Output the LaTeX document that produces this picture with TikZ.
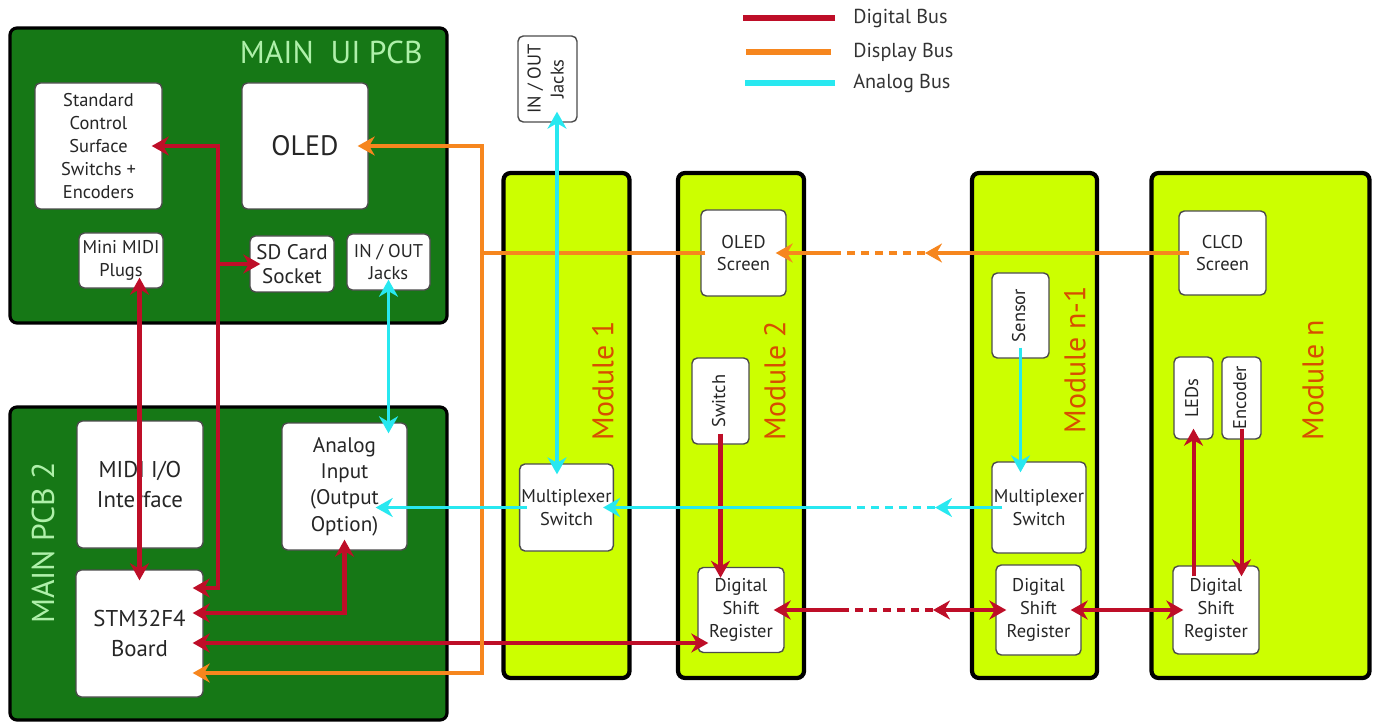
\documentclass[tikz,border=0pt]{standalone}
\usepackage{fontspec}
\setmainfont{PT Sans}
\usetikzlibrary{arrows.meta}

\definecolor{pcbgreen}{RGB}{22,120,22}
\definecolor{pcbtext}{RGB}{175,240,170}
\definecolor{modfill}{RGB}{204,255,0}
\definecolor{modtext}{RGB}{215,78,0}
\definecolor{busred}{RGB}{190,14,40}
\definecolor{busorange}{RGB}{246,134,30}
\definecolor{buscyan}{RGB}{40,232,240}

\newcommand{\vlabel}[1]{\rotatebox{90}{\begin{tabular}{@{}c@{}}#1\end{tabular}}}

\begin{document}
\begin{tikzpicture}[
    >={Stealth[length=3.4mm, width=3.8mm, inset=1.1mm]},
    pcb/.style={draw=black, line width=1.8pt, fill=pcbgreen, rounded corners=4pt},
    pcbname/.style={text=pcbtext, font=\fontsize{18}{20}\selectfont},
    module/.style={draw=black, line width=2.4pt, fill=modfill, rounded corners=4pt, minimum height=101mm},
    modname/.style={text=modtext, font=\fontsize{17}{20}\selectfont, rotate=90},
    box/.style={draw=black!70, line width=0.8pt, fill=white, rounded corners=3pt, align=center,
                inner sep=1pt, text=black!85, font=\fontsize{10.5}{13}\selectfont},
    bigbox/.style={box, font=\fontsize{13}{17}\selectfont},
    rbus/.style={busred, line width=2.3pt},
    obus/.style={busorange, line width=2.1pt},
    abus/.style={buscyan, line width=2.1pt},
    broken/.style={dash pattern=on 1.7mm off 1.1mm},
    deep/.style={shorten <=-2.2mm, shorten >=-2.2mm},
    legtxt/.style={text=black!80, font=\fontsize{11.5}{13}\selectfont, anchor=west, inner sep=0pt},
  ]
    \useasboundingbox (0,0) rectangle (27.52,-14.44);

    % boards
    \node[pcb, minimum width=87.4mm, minimum height=59mm]   (uipcb)  at (4.57,-3.51)  {};
    \node[pcb, minimum width=87.4mm, minimum height=62.6mm] (pcbtwo) at (4.57,-11.27) {};
    \node[pcbname, anchor=east, inner sep=0pt] (uiname) at (8.46,-1.04) {MAIN~~UI PCB};
    \node[pcbname, rotate=90] (twoname) at (0.86,-10.86) {MAIN PCB 2};

    \foreach \nm/\x/\w in {mod1/11.33/25.2, mod2/14.82/25.2, modn1/20.69/25.0, modn/25.21/43.6}
      \node[module, minimum width=\w mm] (\nm) at (\x,-8.51) {};

    \node[modname] (mod1name)  at (12.06,-7.62) {Module 1};
    \node[modname] (mod2name)  at (15.50,-7.62) {Module 2};
    \node[modname] (modn1name) at (21.50,-7.20) {Module n-1};
    \node[modname] (modnname)  at (26.26,-7.60) {Module n};

    % main ui pcb
    \node[box, minimum width=25.4mm, minimum height=25.2mm] (stdctl) at (1.97,-2.92)
      {Standard\\Control\\Surface\\Switchs +\\Encoders};
    \node[box, font=\fontsize{16}{20}\selectfont, minimum width=25.2mm, minimum height=25.2mm]
      (oled) at (6.10,-2.92) {OLED};
    \node[box, minimum width=16.8mm, minimum height=11mm]   (minimidi) at (2.42,-5.21) {Mini MIDI\\Plugs};
    \node[box, font=\fontsize{12}{14}\selectfont, minimum width=16.8mm, minimum height=11.2mm]
      (sdcard) at (5.84,-5.28) {SD Card\\Socket};
    \node[box, minimum width=16.6mm, minimum height=11.2mm] (jacksui)  at (7.77,-5.24) {IN / OUT\\Jacks};

    % main pcb 2
    \node[bigbox, minimum width=25.2mm, minimum height=25.4mm] (midiio) at (2.80,-9.69) {MIDI I/O\\Interface};
    \node[box, font=\fontsize{12}{15}\selectfont, minimum width=25mm, minimum height=25.4mm]
      (analog) at (6.89,-9.73) {Analog\\Input\\(Output\\Option)};
    \node[bigbox, minimum width=25.4mm, minimum height=25.4mm] (stm) at (2.79,-12.67) {STM32F4\\Board};

    % modules
    \node[box, minimum width=11.8mm, minimum height=17.2mm] (jacksm1) at (10.95,-1.58) {\vlabel{IN / OUT\\Jacks}};
    \node[box, minimum width=18.6mm, minimum height=17.4mm] (mux1)    at (11.33,-10.15) {Multiplexer\\Switch};
    \node[box, minimum width=17mm, minimum height=17.2mm]   (oledscr) at (14.87,-5.06) {OLED\\Screen};
    \node[box, minimum width=11.4mm, minimum height=17.2mm] (switch)  at (14.41,-8.02) {\vlabel{Switch}};
    \node[box, minimum width=17.2mm, minimum height=17mm]   (dsr2)    at (14.82,-12.20) {Digital\\Shift\\Register};
    \node[box, minimum width=11.4mm, minimum height=17mm]   (sensor)  at (20.41,-6.31) {\vlabel{Sensor}};
    \node[box, minimum width=18.8mm, minimum height=18.2mm] (muxn1)   at (20.78,-10.15) {Multiplexer\\Switch};
    \node[box, minimum width=17mm, minimum height=18mm]     (dsrn1)   at (20.77,-12.20) {Digital\\Shift\\Register};
    \node[box, minimum width=17.4mm, minimum height=16.8mm] (clcd)    at (24.45,-5.06) {CLCD\\Screen};
    \node[box, minimum width=7.8mm, minimum height=16.4mm]  (leds)    at (23.87,-7.96) {\vlabel{LEDs}};
    \node[box, minimum width=7.8mm, minimum height=16.4mm]  (encoder) at (24.83,-7.96) {\vlabel{Encoder}};
    \node[box, minimum width=17.2mm, minimum height=17.6mm] (dsrn)    at (24.32,-12.20) {Digital\\Shift\\Register};

    % bends and breaks
    \coordinate (rcol)    at (4.36,-5.28);
    \coordinate (ocorner) at (9.64,-13.46);
    \coordinate (ogapR)   at (18.50,-5.06);
    \coordinate (ogapL)   at (16.70,-5.06);
    \coordinate (agapR)   at (18.70,-10.15);
    \coordinate (agapL)   at (16.86,-10.15);
    \coordinate (dgapR)   at (18.66,-12.20);
    \coordinate (dgapL)   at (16.86,-12.20);

    % digital bus
    \draw[rbus, <->, deep] (stm.north |- minimidi.south) -- (stm.north);
    \draw[rbus, <->, deep] ([yshift=9.1mm]stm.east) -| (rcol) |- (stdctl.east);
    \draw[rbus, ->, shorten >=-2.2mm] (rcol) -- (sdcard.west);
    \draw[rbus, <->, deep] ([yshift=4.1mm]stm.east) -| (analog.south);
    \draw[rbus, <->, deep] ([yshift=-1.9mm]stm.east) -- ([yshift=-1.9mm]stm.east -| dsr2.west);
    \draw[rbus, ->, deep] (switch.south) -- (switch.south |- dsr2.north);
    \draw[rbus, <->, shorten <=-2.2mm] (dsrn1.west) -- (dgapR);
    \draw[rbus, broken] (dgapR) -- (dgapL);
    \draw[rbus, ->, shorten >=-2.2mm] (dgapL) -- (dsr2.east);
    \draw[rbus, <->, deep] (dsrn1.east) -- (dsrn.west);
    \draw[rbus, ->, deep] (leds.south |- dsrn.north) -- (leds.south);
    \draw[rbus, ->, deep] (encoder.south) -- (encoder.south |- dsrn.north);

    % display bus
    \draw[obus, <->, deep] (oled.east) -| (ocorner) -- ([yshift=-7.9mm]stm.east);
    \draw[obus, shorten <=-1mm] (oledscr.west) -- (oledscr.west -| ocorner);
    \draw[obus, ->, shorten <=-2.2mm] (clcd.west) -- (ogapR);
    \draw[obus, broken] (ogapR) -- (ogapL);
    \draw[obus, ->, shorten >=-2.2mm] (ogapL) -- (oledscr.east);

    % analog bus
    \draw[abus, <->, deep] (jacksui.south) -- (jacksui.south |- analog.north);
    \draw[abus, <->, deep] ([xshift=1.9mm]jacksm1.south) -- ([xshift=1.9mm]jacksm1.south |- mux1.north);
    \draw[abus, ->, deep] (sensor.south) -- (sensor.south |- muxn1.north);
    \draw[abus, ->, shorten <=-2.2mm] (muxn1.west) -- (agapR);
    \draw[abus, broken] (agapR) -- (agapL);
    \draw[abus, ->, shorten >=-2.2mm] (agapL) -- (mux1.east);
    \draw[abus, ->, shorten <=-1.6mm, shorten >=-6.4mm] (mux1.west) -- (analog.east |- mux1.west);

    % legend
    \node[legtxt] (lgdig)  at (17.06,-0.36) {Digital Bus};
    \node[legtxt] (lgdisp) at (17.06,-1.04) {Display Bus};
    \node[legtxt] (lgana)  at (17.06,-1.66) {Analog Bus};
    \draw[rbus, line width=3pt] ([xshift=-3.6mm]lgdig.west)  -- ++(-18.4mm,0);
    \draw[obus, line width=3pt] ([xshift=-4.4mm]lgdisp.west) -- ++(-17mm,0);
    \draw[abus, line width=3pt] ([xshift=-3.6mm]lgana.west)  -- ++(-18mm,0);
  \end{tikzpicture}
\end{document}
